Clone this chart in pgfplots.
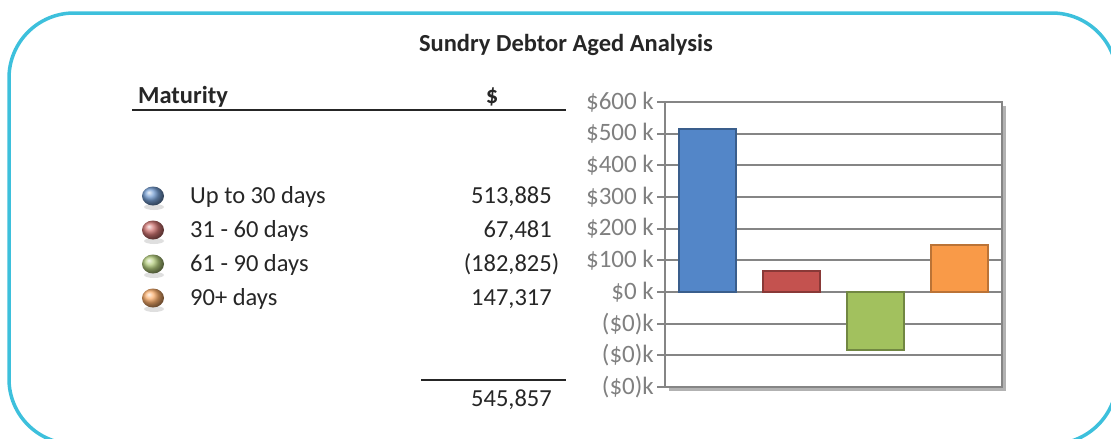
\documentclass[border=0pt]{standalone}
\usepackage{pgfplots}
\pgfplotsset{compat=1.18}
\usepackage{fontspec}
\setmainfont{Carlito}
\usetikzlibrary{shadows}
\definecolor{frame}{HTML}{3DC0DC}
\definecolor{cblue}{HTML}{5386C8}
\definecolor{cred}{HTML}{C4524F}
\definecolor{cgreen}{HTML}{A2C15E}
\definecolor{corange}{HTML}{F99A48}
\definecolor{txt}{HTML}{262626}
\definecolor{gridc}{HTML}{858585}
\begin{document}
\begin{tikzpicture}[x=1pt,y=-1pt]
\useasboundingbox (0,0) rectangle (1111,439);
\begin{scope}
\clip (0,0) rectangle (1111,439);
\draw[frame, line width=3.5pt, rounded corners=65pt] (9,13) rectangle (1117,444);
\end{scope}
% title
\node[anchor=base, font=\fontsize{24.5}{29}\selectfont\bfseries, text=txt, inner sep=0pt] at (566,51) {Sundry Debtor Aged Analysis};
% table header
\node[anchor=base west, font=\fontsize{24.5}{29}\selectfont\bfseries, text=txt, inner sep=0pt] at (138,103) {Maturity};
\node[anchor=base, font=\fontsize{24.5}{29}\selectfont\bfseries, text=txt, inner sep=0pt] at (492,103) {\$};
\draw[txt, line width=2pt] (132,110) -- (566,110);
% rows
\foreach \c/\lab/\val/\yy in {cblue/Up to 30 days/513{,}885/203, cred/31 - 60 days/67{,}481/237, cgreen/61 - 90 days/(182{,}825\rlap{)}/271, corange/90+ days/147{,}317/305}{
  \fill[gray, opacity=0.25] (154,\yy+4) ellipse (10pt and 3pt);
  \shade[ball color=\c!80!white] (153,\yy-7) ellipse (11pt and 9.5pt);
  \node[anchor=base west, font=\fontsize{24.5}{29}\selectfont, text=txt, inner sep=0pt] at (190,\yy) {\lab};
  \node[anchor=base east, font=\fontsize{24.5}{29}\selectfont, text=txt, inner sep=0pt] at (552,\yy) {\val};
}
\draw[txt, line width=2pt] (421,380) -- (566,380);
\node[anchor=base east, font=\fontsize{24.5}{29}\selectfont, text=txt, inner sep=0pt] at (552,406) {545,857};
\begin{axis}[
  at={(665pt,-387pt)}, anchor=south west,
  scale only axis, width=337pt, height=285pt,
  xmin=0.5, xmax=4.5, ymin=-300000, ymax=600000,
  scaled y ticks=false,
  xtick=\empty,
  ytick={-300000,-200000,-100000,0,100000,200000,300000,400000,500000,600000},
  yticklabels={(\$0)k,(\$0)k,(\$0)k,\$0 k,\$100 k,\$200 k,\$300 k,\$400 k,\$500 k,\$600 k},
  ymajorgrids, grid style={gridc, line width=2pt},
  axis line style={gridc, line width=2pt},
  y tick style={gridc, line width=2pt},
  tick align=outside, major tick length=8pt, ytick pos=left,
  yticklabel style={text=gray, font=\fontsize{25}{29}\selectfont, inner sep=3pt},
  ybar, bar width=57pt, bar shift=0pt,
  axis background/.style={fill=white, drop shadow={shadow xshift=4pt, shadow yshift=-4pt, opacity=0.3, fill=black}},
  clip=false,
]
\addplot[fill=cblue, draw=cblue!70!black, line width=1.8pt] coordinates {(1,513885)};
\addplot[fill=cred, draw=cred!70!black, line width=1.8pt] coordinates {(2,67481)};
\addplot[fill=cgreen, draw=cgreen!70!black, line width=1.8pt] coordinates {(3,-182825)};
\addplot[fill=corange, draw=corange!75!black, line width=1.8pt] coordinates {(4,147317)};
\end{axis}
\end{tikzpicture}
\end{document}
